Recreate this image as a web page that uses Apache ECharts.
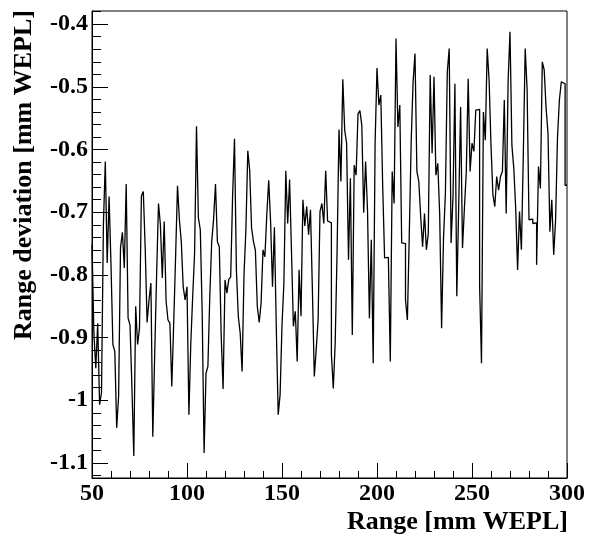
<!DOCTYPE html>
<html><head><meta charset="utf-8">
<script src="https://cdn.jsdelivr.net/npm/echarts@6/dist/echarts.min.js"></script>
<style>html,body{margin:0;padding:0;background:#fff}#c{width:589px;height:536px}</style>
</head><body><div id="c"></div>
<script>
// Histogram: 250 bins of 1 mm from 50 to 300 mm WEPL
const binLow = 50;
const binWidth = 1;
const deviation = [
-0.752,-0.893,-0.949,-0.877,-1.007,-0.988,-0.720,-0.619,-0.781,-0.675,
-0.784,-0.911,-0.922,-1.044,-0.994,-0.757,-0.732,-0.789,-0.655,-0.869,
-0.880,-0.978,-1.089,-0.850,-0.911,-0.885,-0.674,-0.667,-0.757,-0.876,
-0.840,-0.813,-1.058,-0.927,-0.800,-0.686,-0.720,-0.805,-0.715,-0.842,
-0.872,-0.877,-0.978,-0.877,-0.771,-0.658,-0.712,-0.747,-0.819,-0.840,
-0.819,-1.023,-0.909,-0.834,-0.765,-0.563,-0.709,-0.728,-0.861,-1.084,
-0.957,-0.946,-0.834,-0.747,-0.711,-0.655,-0.747,-0.755,-0.897,-0.982,
-0.808,-0.829,-0.807,-0.803,-0.674,-0.583,-0.792,-0.866,-0.893,-0.954,
-0.800,-0.728,-0.602,-0.633,-0.726,-0.747,-0.761,-0.850,-0.876,-0.845,
-0.760,-0.771,-0.704,-0.649,-0.715,-0.819,-0.724,-0.885,-1.023,-0.991,
-0.880,-0.813,-0.634,-0.718,-0.648,-0.763,-0.882,-0.858,-0.938,-0.792,
-0.866,-0.680,-0.722,-0.691,-0.736,-0.696,-0.824,-0.962,-0.919,-0.872,
-0.699,-0.686,-0.718,-0.634,-0.714,-0.717,-0.927,-0.981,-0.908,-0.761,
-0.568,-0.651,-0.488,-0.569,-0.590,-0.776,-0.646,-0.896,-0.625,-0.641,
-0.543,-0.538,-0.561,-0.701,-0.619,-0.696,-0.869,-0.744,-0.941,-0.590,
-0.470,-0.529,-0.513,-0.659,-0.773,-0.772,-0.776,-0.938,-0.635,-0.686,
-0.423,-0.564,-0.529,-0.749,-0.750,-0.840,-0.872,-0.734,-0.587,-0.492,
-0.447,-0.635,-0.651,-0.707,-0.755,-0.702,-0.760,-0.734,-0.481,-0.606,
-0.484,-0.641,-0.622,-0.704,-0.885,-0.742,-0.670,-0.476,-0.439,-0.749,
-0.675,-0.495,-0.834,-0.691,-0.532,-0.757,-0.694,-0.635,-0.487,-0.635,
-0.590,-0.603,-0.537,-0.536,-0.816,-0.941,-0.540,-0.585,-0.439,-0.489,
-0.593,-0.672,-0.691,-0.643,-0.665,-0.643,-0.635,-0.521,-0.702,-0.492,
-0.412,-0.593,-0.630,-0.694,-0.792,-0.699,-0.760,-0.609,-0.439,-0.504,
-0.712,-0.711,-0.718,-0.717,-0.784,-0.627,-0.662,-0.460,-0.473,-0.534,
-0.574,-0.731,-0.680,-0.768,-0.712,-0.580,-0.521,-0.492,-0.495,-0.657
];
const xMin = 50, xMax = 300, xStep = 50;
const yMin = -1.124, yMax = -0.379;
const yMajorTicks = [-1.1, -1.0, -0.9, -0.8, -0.7, -0.6, -0.5, -0.4];
const yMinorTicks = [];
for (let k = -56; k <= -19; k++) {
  const v = +(k * 0.02).toFixed(2);
  if (Math.abs(v * 10 - Math.round(v * 10)) > 1e-6) yMinorTicks.push(v);
}
const xTitle = 'Range [mm WEPL]';
const yTitle = 'Range deviation [mm WEPL]';

const pts = deviation.map((v, i) => [binLow + i * binWidth, v]);
pts.push([binLow + deviation.length * binWidth, deviation[deviation.length - 1]]);

const FONT = '"Liberation Serif", "Times New Roman", serif';
const chart = echarts.init(document.getElementById('c'), null, {renderer: 'canvas'});
chart.setOption({
  animation: false,
  backgroundColor: '#fff',
  grid: {left: 92, right: 22, top: 11, bottom: 58, show: true, borderColor: '#000', borderWidth: 1, containLabel: false},
  xAxis: {
    type: 'value', min: xMin, max: xMax, interval: xStep,
    axisLine: {show: true, onZero: false, lineStyle: {color: '#000', width: 1}},
    axisTick: {show: true, inside: true, length: 15, lineStyle: {color: '#000', width: 1}},
    minorTick: {show: true, splitNumber: 5, length: 7, lineStyle: {color: '#000', width: 1}},
    splitLine: {show: false}, minorSplitLine: {show: false},
    axisLabel: {color: '#000', fontFamily: FONT, fontWeight: 'bold', fontSize: 24, margin: 4}
  },
  yAxis: [{
    type: 'value', min: yMin, max: yMax, position: 'left',
    axisLine: {show: true, onZero: false, lineStyle: {color: '#000', width: 1}},
    axisTick: {show: true, inside: true, length: 16, customValues: yMajorTicks, lineStyle: {color: '#000', width: 1}},
    splitLine: {show: false},
    axisLabel: {show: true, customValues: yMajorTicks, color: '#000', fontFamily: FONT, fontWeight: 'bold', fontSize: 24, margin: 4,
      formatter: v => String(Math.round(v * 10) / 10)}
  }, {
    type: 'value', min: yMin, max: yMax, position: 'left',
    axisLine: {show: false},
    axisTick: {show: true, inside: true, length: 9, customValues: yMinorTicks, lineStyle: {color: '#000', width: 1}},
    splitLine: {show: false},
    axisLabel: {show: false}
  }],
  series: [{
    type: 'line', step: 'end', data: pts, symbol: 'none', yAxisIndex: 0,
    lineStyle: {color: '#000', width: 1.3}, clip: true
  }],
  graphic: [
    {type: 'text', x: 568, y: 522, style: {text: xTitle, fill: '#000', font: 'bold 26px ' + FONT, align: 'right', verticalAlign: 'middle'}},
    {type: 'text', x: 24, y: 10, rotation: Math.PI / 2, style: {text: yTitle, fill: '#000', font: 'bold 26px ' + FONT, align: 'right', verticalAlign: 'middle'}}
  ]
});
</script></body></html>
